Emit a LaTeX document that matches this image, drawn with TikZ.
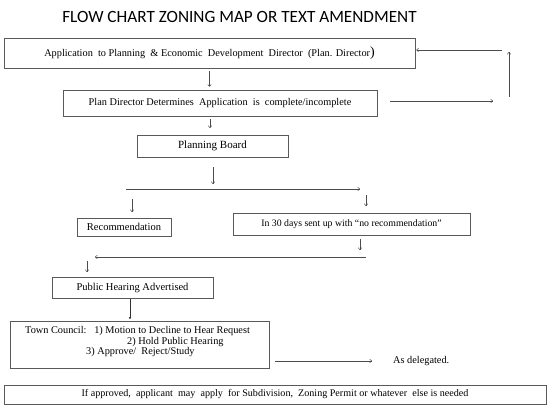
\documentclass[tikz,border=0pt]{standalone}
\usepackage{fontspec}
\setmainfont{Liberation Serif}
\newfontfamily\titlefont{Carlito}
\usetikzlibrary{arrows.meta}
\newcommand{\fs}[1]{\fontsize{#1}{#1}\selectfont}
\begin{document}
\begin{tikzpicture}[x=1pt,y=-1pt,
  box/.style={draw=black!65, line width=0.6pt, inner sep=0pt, font=\fs{10.3}},
  txt/.style={inner sep=0pt, font=\fs{10.3}},
  arr/.style={draw=black!70, line width=0.5pt, -{To[length=2.5pt,width=4pt]}},
  farr/.style={draw=black!80, line width=0.6pt, -{Latex[length=2.5pt,width=2.5pt]}}]
\useasboundingbox (0,0) rectangle (551,409);
\node[font=\titlefont\fs{17.2}] (title) at (239.5,17) {FLOW CHART ZONING MAP OR TEXT AMENDMENT};
\node[box, minimum width=411pt, minimum height=30pt] (b1) at (209.5,53) {Application\ \ to Planning \ \& Economic \ Development \ Director \ (Plan. Director{\fs{14})}};
\node[box, minimum width=314pt, minimum height=26pt] (b2) at (220,103) {Plan Director Determines \ Application \ is \ complete/incomplete};
\node[box, font=\fs{11}, minimum width=151pt, minimum height=22pt] (pb) at (212.5,146) {Planning Board};
\node[box, font=\fs{10.5}, minimum width=94pt, minimum height=18pt] (rec) at (124,227) {Recommendation};
\node[box, font=\fs{9.8}, minimum width=237pt, minimum height=22pt] (n30) at (351.5,224) {In 30 days sent up with \textquotedblleft no recommendation\textquotedblright};
\node[box, font=\fs{10.5}, minimum width=161pt, minimum height=21pt] (pha) at (132.5,287.5) {Public Hearing Advertised};
\node[box, minimum width=259pt, minimum height=47pt] (tc) at (139.5,344.5) {};
\node[txt, anchor=west] (tc1) at (25,331.5) {Town Council:\ \ \ 1) Motion to Decline to Hear Request};
\node[txt, anchor=west] (tc2) at (127,342) {2) Hold Public Hearing};
\node[txt, anchor=west] (tc3) at (86,352.5) {3) Approve/\ \ Reject/Study};
\node[txt, anchor=west] (del) at (393,361) {As delegated.};
\node[box, font=\fs{10.1}, minimum width=542pt, minimum height=19pt] (fin) at (275,394.5) {If approved, \ applicant \ may \ apply \ for Subdivision, \ Zoning Permit or whatever \ else is needed};
% coordinates for free arrow ends
\coordinate (r1) at (390,101); \coordinate (r2) at (493,101);
\coordinate (u1) at (509,97);  \coordinate (u2) at (509,52);
\coordinate (l1) at (502,50);
\coordinate (p1) at (210,119); \coordinate (p2) at (210,128);
\coordinate (q1) at (213,167); \coordinate (q2) at (213,184);
\coordinate (h1) at (126,189); \coordinate (h2) at (360,189);
\coordinate (d1) at (132,199); \coordinate (d2) at (132,212);
\coordinate (e1) at (366,195); \coordinate (e2) at (366,206);
\coordinate (f1) at (360,239); \coordinate (f2) at (360,250);
\coordinate (g1) at (366,257); \coordinate (g2) at (95,257);
\coordinate (k1) at (87,261);  \coordinate (k2) at (87,272);
\coordinate (t1) at (275,361); \coordinate (t2) at (372,361);
\draw[arr, shorten <=3pt, shorten >=3pt] (b1.south) -- (b1.south |- b2.north);
\draw[arr] (r1) -- (r2);
\draw[arr] (u1) -- (u2);
\draw[arr, shorten >=1pt] (l1) -- (b1.east |- l1);
\draw[arr] (p1) -- (p2);
\draw[arr] (q1) -- (q2);
\draw[arr] (h1) -- (h2);
\draw[arr] (d1) -- (d2);
\draw[arr] (e1) -- (e2);
\draw[arr] (f1) -- (f2);
\draw[arr] (g1) -- (g2);
\draw[arr] (k1) -- (k2);
\draw[farr, shorten <=1pt, shorten >=1pt] (pha.south -| 130,0) -- (tc.north -| 130,0);
\draw[arr] (t1) -- (t2);
\end{tikzpicture}
\end{document}
